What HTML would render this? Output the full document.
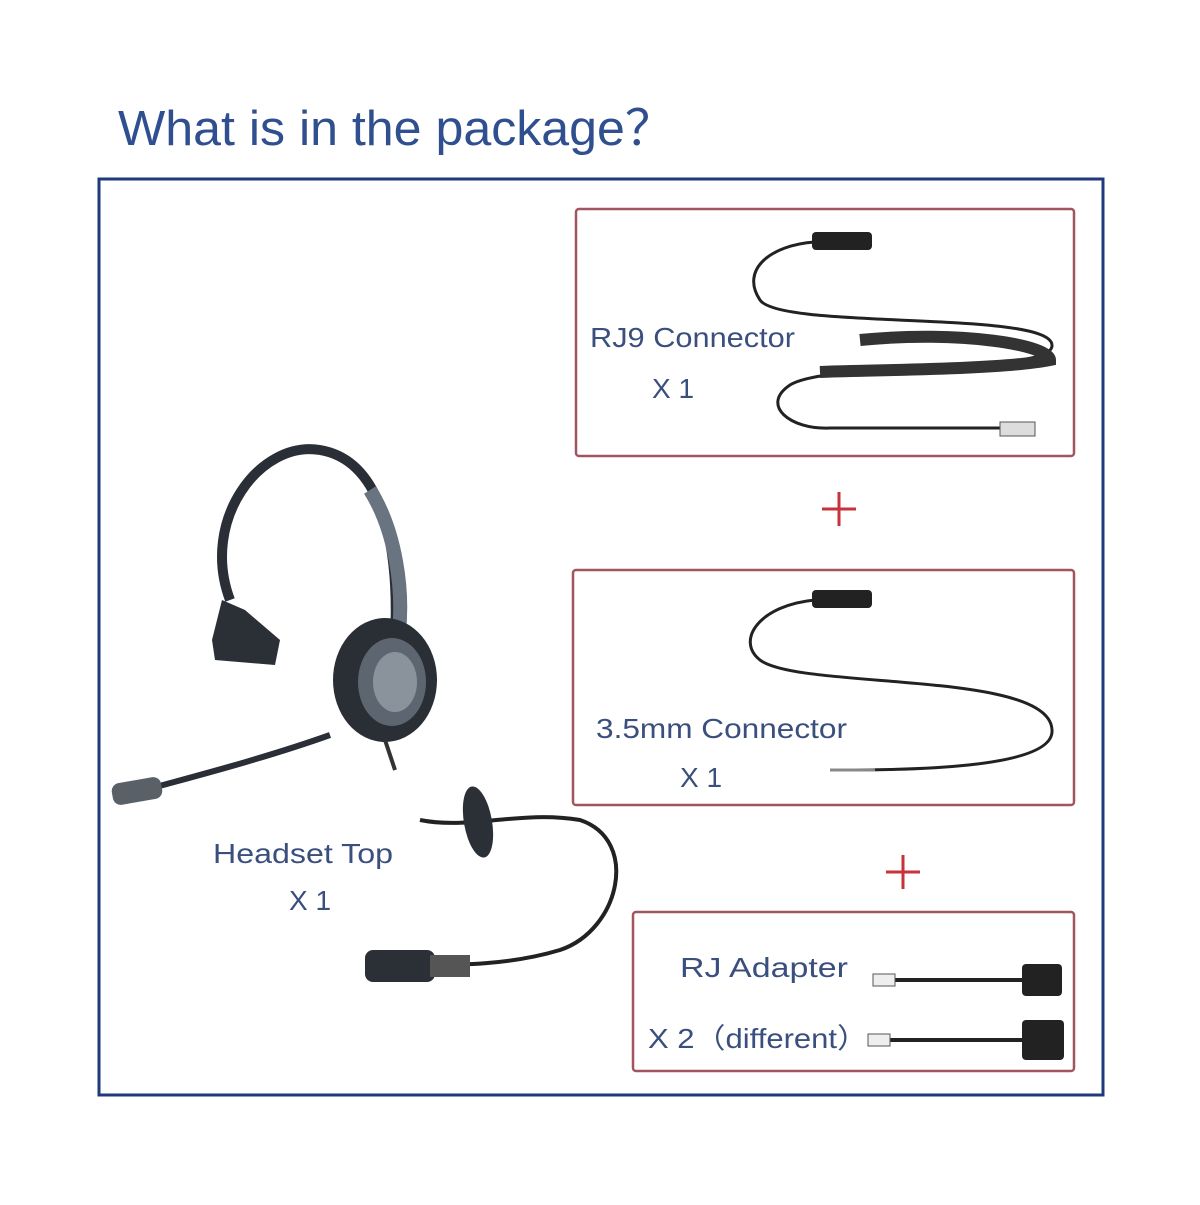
<!DOCTYPE html>
<html><head><meta charset="utf-8"><style>
body{margin:0;background:#fff;width:1200px;height:1200px;overflow:hidden;font-family:"Liberation Sans",sans-serif}
</style></head><body>
<svg width="1200" height="1200" xmlns="http://www.w3.org/2000/svg" font-family="Liberation Sans, Noto Sans CJK SC, sans-serif">
<text x="118" y="145" font-size="49" fill="#2f4f8f" textLength="557" lengthAdjust="spacingAndGlyphs">What is in the package？</text>
<rect x="99" y="179" width="1004" height="916" fill="none" stroke="#1f3a7a" stroke-width="3"/>
<g fill="none" stroke="#a05560" stroke-width="2.5">
<rect x="576" y="209" width="498" height="247" rx="3"/>
<rect x="573" y="570" width="501" height="235" rx="3"/>
<rect x="633" y="912" width="441" height="159" rx="3"/>
</g>
<g stroke="#c8323a" stroke-width="3"><line x1="822" y1="509" x2="856" y2="509"/><line x1="839" y1="492" x2="839" y2="526"/>
<line x1="886" y1="872" x2="920" y2="872"/><line x1="903" y1="855" x2="903" y2="889"/></g>
<g fill="#3b4f7e" font-size="28">
<text x="590" y="347" textLength="205" lengthAdjust="spacingAndGlyphs">RJ9 Connector</text><text x="652" y="398">X 1</text>
<text x="596" y="738" textLength="251" lengthAdjust="spacingAndGlyphs">3.5mm Connector</text><text x="680" y="787">X 1</text>
<text x="680" y="977" textLength="168" lengthAdjust="spacingAndGlyphs">RJ Adapter</text><text x="648" y="1048" textLength="220" lengthAdjust="spacingAndGlyphs">X 2（different）</text>
<text x="213" y="863" textLength="180" lengthAdjust="spacingAndGlyphs">Headset Top</text><text x="289" y="910">X 1</text>
</g>
<g fill="none" stroke="#222" stroke-width="3">
<path d="M815 242 C770 245 740 270 760 300 C780 330 1050 310 1052 345 C1055 375 830 360 790 385 C760 405 790 430 830 428 L1000 428"/>
</g>
<path d="M860 340 C960 330 1050 345 1050 360 C1000 370 860 370 820 372" stroke="#333" stroke-width="12" fill="none"/>
<rect x="812" y="232" width="60" height="18" rx="4" fill="#222"/>
<rect x="1000" y="422" width="35" height="14" fill="#ddd" stroke="#555"/>
<path d="M815 600 C760 605 735 640 760 660 C800 690 1050 670 1052 730 C1055 770 900 770 830 770" fill="none" stroke="#222" stroke-width="3"/>
<rect x="812" y="590" width="60" height="18" rx="4" fill="#222"/>
<line x1="830" y1="770" x2="875" y2="770" stroke="#888" stroke-width="3"/>
<g stroke="#222" stroke-width="4"><line x1="895" y1="980" x2="1025" y2="980"/><line x1="890" y1="1040" x2="1025" y2="1040"/></g>
<rect x="873" y="974" width="22" height="12" fill="#eee" stroke="#555"/>
<rect x="868" y="1034" width="22" height="12" fill="#eee" stroke="#555"/>
<rect x="1022" y="964" width="40" height="32" rx="4" fill="#222"/>
<rect x="1022" y="1020" width="42" height="40" rx="4" fill="#222"/>
<path d="M230 600 C200 520 260 440 320 450 C380 460 400 540 395 640" fill="none" stroke="#2a2e36" stroke-width="10"/>
<path d="M370 490 C395 530 405 590 398 640" fill="none" stroke="#6a7480" stroke-width="14"/>
<path d="M212 640 L222 600 L245 610 L280 640 L275 665 L215 660 Z" fill="#2b2f36"/>
<ellipse cx="385" cy="680" rx="52" ry="62" fill="#2a2e35"/>
<ellipse cx="392" cy="682" rx="34" ry="44" fill="#5d6670"/>
<ellipse cx="395" cy="682" rx="22" ry="30" fill="#8a939c"/>
<path d="M330 735 C260 760 180 780 145 790" fill="none" stroke="#2a2e36" stroke-width="6"/>
<rect x="112" y="780" width="50" height="22" rx="8" fill="#5a6068" transform="rotate(-10 137 791)"/>
<path d="M385 740 L395 770" stroke="#333" stroke-width="4"/>
<path d="M420 820 C470 830 520 810 580 820 C640 840 620 930 560 950 C510 965 460 965 420 965" fill="none" stroke="#222" stroke-width="4"/>
<ellipse cx="478" cy="822" rx="14" ry="36" fill="#2b2f36" transform="rotate(-10 478 822)"/>
<rect x="365" y="950" width="70" height="32" rx="8" fill="#2b2f36"/>
<rect x="430" y="955" width="40" height="22" fill="#555"/>
</svg>
</body></html>
